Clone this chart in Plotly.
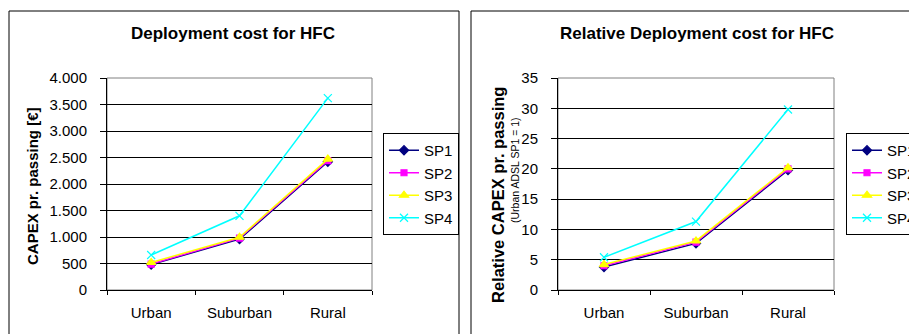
import plotly.graph_objects as go

W, H = 909, 334

categories = ["Urban", "Suburban", "Rural"]
series_names = ["SP1", "SP2", "SP3", "SP4"]

abs_sp1 = [480, 960, 2420]
abs_sp2 = [490, 980, 2440]
abs_sp3 = [520, 995, 2470]
abs_sp4 = [660, 1400, 3620]

rel_sp1 = [3.8, 7.7, 19.8]
rel_sp2 = [4.0, 7.9, 20.0]
rel_sp3 = [4.2, 8.1, 20.2]
rel_sp4 = [5.4, 11.3, 29.8]

title_left = "Deployment cost for HFC"
title_right = "Relative Deployment cost for HFC"
ytitle_left = "CAPEX pr. passing [€]"
ytitle_right = "Relative CAPEX pr. passing"
ysub_right = "(Urban ADSL SP1 = 1)"

colors = ["#000080", "#FF00FF", "#FFFF00", "#00FFFF"]
symbols = ["diamond", "square", "triangle-up", "x-thin-open"]
msizes = [7, 6, 8, 8]

FONT = "Liberation Sans, Arial, sans-serif"


def px(x):
    return x / W


def py(y):
    return 1 - y / H


fig = go.Figure()

abs_data = [abs_sp1, abs_sp2, abs_sp3, abs_sp4]
rel_data = [rel_sp1, rel_sp2, rel_sp3, rel_sp4]

for i, name in enumerate(series_names):
    mk = dict(symbol=symbols[i], size=msizes[i], color=colors[i],
              line=dict(color=colors[i], width=1.2))
    fig.add_trace(go.Scatter(x=categories, y=abs_data[i], name=name,
                             mode="lines+markers", xaxis="x", yaxis="y",
                             line=dict(color=colors[i], width=1.5),
                             marker=mk, legend="legend"))
for i, name in enumerate(series_names):
    mk = dict(symbol=symbols[i], size=msizes[i], color=colors[i],
              line=dict(color=colors[i], width=1.2))
    fig.add_trace(go.Scatter(x=categories, y=rel_data[i], name=name,
                             mode="lines+markers", xaxis="x2", yaxis="y2",
                             line=dict(color=colors[i], width=1.5),
                             marker=mk, legend="legend2"))

axis_common_x = dict(type="category", range=[-0.5, 2.5], showgrid=False,
                     showline=True, linecolor="black", linewidth=1,
                     ticks="outside", ticklen=4, tickcolor="black",
                     tickson="boundaries", zeroline=False,
                     tickfont=dict(family=FONT, size=15, color="black"),
                     ticklabelstandoff=9)
axis_common_y = dict(showgrid=True, gridcolor="black", gridwidth=1,
                     showline=True, linecolor="black", linewidth=1,
                     ticks="outside", ticklen=6, tickcolor="black",
                     zeroline=False,
                     tickfont=dict(family=FONT, size=15, color="black"),
                     ticklabelstandoff=10)

Y0, Y1 = 290, 78
fig.update_layout(
    width=W, height=H,
    margin=dict(l=0, r=0, t=0, b=0, autoexpand=False),
    paper_bgcolor="white", plot_bgcolor="white",
    separators=",.",
    font=dict(family=FONT, color="black"),
    xaxis=dict(domain=[px(107), px(372)], anchor="y", **axis_common_x),
    yaxis=dict(domain=[py(Y0), py(Y1)], anchor="x", range=[0, 4000],
               dtick=500, tickformat=",", **axis_common_y),
    xaxis2=dict(domain=[px(558), px(834)], anchor="y2", **axis_common_x),
    yaxis2=dict(domain=[py(Y0), py(Y1)], anchor="x2", range=[0, 35],
                dtick=5, **axis_common_y),
    legend=dict(x=px(383), y=py(133), xanchor="left", yanchor="top",
                bordercolor="black", borderwidth=1, bgcolor="white",
                itemwidth=30, tracegroupgap=0,
                font=dict(family=FONT, size=15, color="black")),
    legend2=dict(x=px(846), y=py(133), xanchor="left", yanchor="top",
                 bordercolor="black", borderwidth=1, bgcolor="white",
                 itemwidth=30, tracegroupgap=0,
                 font=dict(family=FONT, size=15, color="black")),
)

# chart borders
fig.add_shape(type="rect", xref="paper", yref="paper",
              x0=px(9), x1=px(459), y0=py(345), y1=py(11),
              line=dict(color="black", width=1), layer="below")
fig.add_shape(type="rect", xref="paper", yref="paper",
              x0=px(471), x1=px(930), y0=py(345), y1=py(11),
              line=dict(color="black", width=1), layer="below")
# plot-area gray borders
for xr, yr in (("x domain", "y domain"), ("x2 domain", "y2 domain")):
    fig.add_shape(type="rect", xref=xr, yref=yr, x0=0, x1=1, y0=0, y1=1,
                  line=dict(color="#808080", width=1), layer="below")

ann = [
    dict(text="<b>" + title_left + "</b>", x=px(233), y=py(33), size=17, angle=0),
    dict(text="<b>" + title_right + "</b>", x=px(697), y=py(33), size=17, angle=0),
    dict(text="<b>" + ytitle_left + "</b>", x=px(33), y=py(186), size=15, angle=-90),
    dict(text="<b>" + ytitle_right + "</b>", x=px(498), y=py(195), size=16.5, angle=-90),
    dict(text=ysub_right, x=px(515), y=py(170), size=10.5, angle=-90),
]
for a in ann:
    fig.add_annotation(text=a["text"], x=a["x"], y=a["y"], xref="paper", yref="paper",
                       xanchor="center", yanchor="middle", showarrow=False,
                       textangle=a["angle"],
                       font=dict(family=FONT, size=a["size"], color="black"))

fig.write_html("out.html")
